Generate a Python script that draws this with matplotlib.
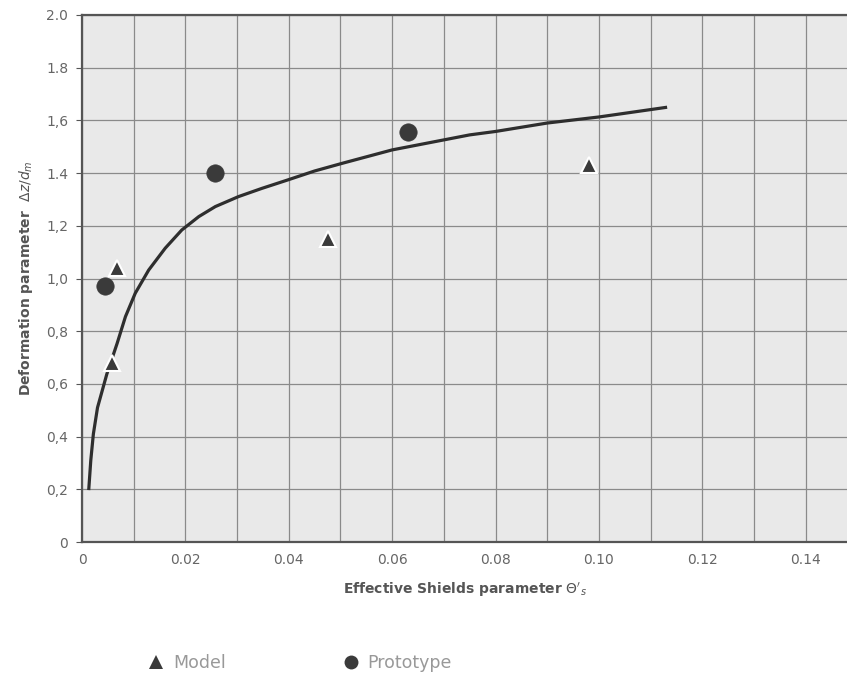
import numpy as np
import matplotlib.pyplot as plt
from matplotlib.ticker import MultipleLocator

# values
model_x = [0.0058, 0.0068, 0.0476, 0.0980]
model_y = [0.68, 1.04, 1.15, 1.43]

proto_x = [0.0045, 0.0257, 0.0630]
proto_y = [0.97, 1.40, 1.555]

# fitted curve
curve_x = [0.0013, 0.0017, 0.0022, 0.0030, 0.0048, 0.0068, 0.0084, 0.0103, 0.0129,
           0.0161, 0.0193, 0.0226, 0.0258, 0.0303, 0.0348, 0.0398, 0.0450,
           0.0505, 0.0600, 0.0750, 0.0800, 0.0900, 0.1000, 0.1132]
curve_y = [0.197, 0.31, 0.41, 0.51, 0.637, 0.754, 0.855, 0.944, 1.032,
           1.115, 1.184, 1.235, 1.273, 1.311, 1.342, 1.374, 1.408,
           1.438, 1.488, 1.545, 1.558, 1.59, 1.613, 1.65]

x_ticks = [0, 0.02, 0.04, 0.06, 0.08, 0.10, 0.12, 0.14]
x_labels = ["0", "0.02", "0.04", "0.06", "0.08", "0.10", "0.12", "0.14"]
y_ticks = [0, 0.2, 0.4, 0.6, 0.8, 1.0, 1.2, 1.4, 1.6, 1.8, 2.0]
y_labels = ["0", "0,2", "0,4", "0,6", "0,8", "1,0", "1,2", "1.4", "1,6", "1.8", "2.0"]

plt.rcParams['font.family'] = ['DejaVu Sans']

fig = plt.figure(figsize=(8.47, 6.82), dpi=100)
fig.patch.set_facecolor('white')
ax = fig.add_axes([82 / 847, 1 - 542 / 682, 1 - 82 / 847, (542 - 15) / 682])
ax.set_facecolor('#e9e9e9')

ax.plot(curve_x, curve_y, color='#2e2e2e', lw=2.3, solid_capstyle='butt', zorder=3)
ax.plot(model_x, model_y, '^', color='#3a3a3a', ms=11, mec='white', mew=1.5,
        ls='none', zorder=4, label='Model')
ax.plot(proto_x, proto_y, 'o', color='#3a3a3a', ms=12.5, mec='#3a3a3a', mew=0.5,
        ls='none', zorder=4, label='Prototype')

ax.set_xlim(0, 0.148)
ax.set_ylim(0, 2.0)
ax.set_xticks(x_ticks)
ax.set_xticklabels(x_labels)
ax.xaxis.set_minor_locator(MultipleLocator(0.01))
ax.set_yticks(y_ticks)
ax.set_yticklabels(y_labels)

ax.grid(True, which='both', color='#8a8a8a', lw=0.9, zorder=1)
ax.set_axisbelow(True)
ax.tick_params(axis='x', which='both', length=0, pad=8, labelsize=10, colors='#666666')
ax.tick_params(axis='y', length=4, pad=6, labelsize=10, colors='#555555', labelcolor='#666666')

for side in ['top', 'left', 'bottom']:
    ax.spines[side].set_color('#555555')
    ax.spines[side].set_linewidth(1.6)
ax.spines['right'].set_visible(False)

ax.set_xlabel("Effective Shields parameter $\\Theta'_s$", fontsize=10,
              color='#555555', fontweight='bold', labelpad=10)
ax.set_ylabel("Deformation parameter  $\\Delta z/d_m$", fontsize=10,
              color='#555555', fontweight='bold', labelpad=8)

leg = fig.legend(loc='center left', bbox_to_anchor=(132 / 847, 1 - 663 / 682),
                 ncol=2, frameon=False, columnspacing=6.7, handletextpad=0.45,
                 handlelength=1.0, fontsize=12.5, labelcolor='#999999')
for h in leg.legend_handles:
    h.set_markersize(10)
    h.set_markeredgewidth(0)

fig.savefig('out.png', dpi=100)
